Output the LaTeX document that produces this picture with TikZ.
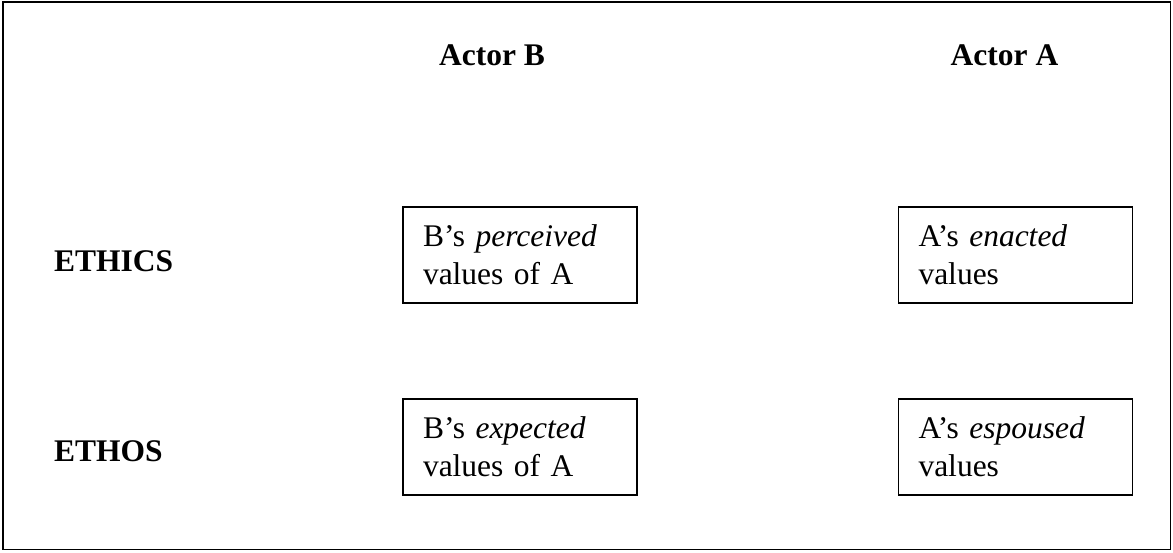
\documentclass[tikz,border=0pt]{standalone}
\usepackage{fontspec}
\setmainfont{Liberation Serif}[Ligatures=TeX]
\begin{document}
\begin{tikzpicture}[x=1pt,y=-1pt,
  txt/.style={inner sep=0pt,font=\fontsize{31.5}{38}\selectfont},
  head/.style={txt,font=\fontsize{31.5}{38}\selectfont\bfseries,anchor=base},
  rowlab/.style={txt,font=\fontsize{31.5}{38}\selectfont\bfseries,anchor=base west},
  valbox/.style={draw,line width=1.5pt,minimum width=234pt,minimum height=96pt,
    text width=194pt,inner xsep=20pt,inner ysep=0pt,align=left,
    font=\fontsize{31.5}{38}\selectfont}]
\useasboundingbox (0,0) rectangle (1173,552);
\draw[line width=1.6pt] (3,2) rectangle (1170.5,549.5);
\node[head] (actB) at (492,65) {Actor B};
\node[head] (actA) at (1004.5,65) {Actor A};
\node[rowlab] (ethics) at (54,271) {ETHICS};
\node[rowlab] (ethos) at (54,461) {ETHOS};
\node[valbox] (bperc) at (520,255) {B's \textit{perceived}\\values of A};
\node[valbox] (aenac) at (1015.5,255) {A's \textit{enacted}\\values};
\node[valbox] (bexp) at (520,447) {B's \textit{expected}\\values of A};
\node[valbox] (aesp) at (1015.5,447) {A's \textit{espoused}\\values};
\end{tikzpicture}
\end{document}
